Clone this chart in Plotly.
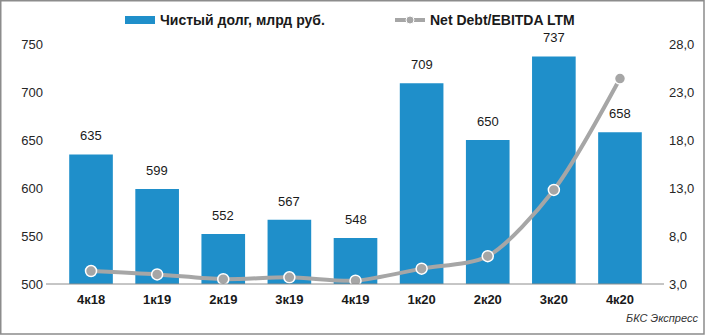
import plotly.graph_objects as go

categories = ["4к18", "1к19", "2к19", "3к19", "4к19", "1к20", "2к20", "3к20", "4к20"]
net_debt = [635, 599, 552, 567, 548, 709, 650, 737, 658]
nd_ebitda = [4.35, 4.0, 3.5, 3.7, 3.35, 4.6, 5.9, 12.8, 24.4]
left_ticks = [500, 550, 600, 650, 700, 750]
right_ticks = [3.0, 8.0, 13.0, 18.0, 23.0, 28.0]
right_labels = ["3,0", "8,0", "13,0", "18,0", "23,0", "28,0"]

BLUE = "#1F8FCA"
GRAY = "#A6A6A6"
FONT = "Arial, Liberation Sans, sans-serif"

fig = go.Figure()
fig.add_trace(go.Bar(x=categories, y=net_debt, marker=dict(color=BLUE, line=dict(width=0)),
                     name="Чистый долг, млрд руб.", showlegend=False))
fig.add_trace(go.Scatter(x=categories, y=nd_ebitda, yaxis="y2", mode="lines+markers",
                         line=dict(color=GRAY, width=4, shape="spline", smoothing=0.8),
                         marker=dict(size=11, color=GRAY, line=dict(color="white", width=1.5)),
                         name="Net Debt/EBITDA LTM", showlegend=False))

annotations = []
for c, v in zip(categories, net_debt):
    annotations.append(dict(x=c, y=v, xref="x", yref="y", text=str(v), showarrow=False,
                            yanchor="bottom", yshift=9, font=dict(size=13, color="#1a1a1a", family=FONT)))

# manual legend
annotations.append(dict(x=158, y=20, xref="paper", yref="paper", text="<b>Чистый долг, млрд руб.</b>",
                        showarrow=False, xanchor="left", yanchor="middle",
                        font=dict(size=14, color="#1a1a1a", family=FONT)))
annotations.append(dict(x=428, y=20, xref="paper", yref="paper", text="<b>Net Debt/EBITDA LTM</b>",
                        showarrow=False, xanchor="left", yanchor="middle",
                        font=dict(size=14, color="#1a1a1a", family=FONT)))
annotations.append(dict(x=700, y=318, xref="paper", yref="paper", text="<i>БКС Экспресс</i>",
                        showarrow=False, xanchor="right", yanchor="middle",
                        font=dict(size=11, color="#333333", family=FONT)))

L, R, T, B = 54, 49, 44, 52
W, H = 706, 336
PW, PH = W - L - R, H - T - B

def px(x):
    return (x - L) / PW

def py(y):
    return (H - B - y) / PH

for a in annotations:
    if a["xref"] == "paper":
        a["x"] = px(a["x"])
        a["y"] = py(a["y"])

shapes = [
    dict(type="rect", xref="paper", yref="paper", x0=px(0.75), x1=px(704), y0=py(0.75), y1=py(334),
         line=dict(color="#8c8c8c", width=1.5), fillcolor="rgba(0,0,0,0)", layer="above"),
    dict(type="line", xref="paper", yref="paper", x0=px(46), x1=px(664), y0=0, y1=0,
         line=dict(color="#8c8c8c", width=1)),
    dict(type="rect", xref="paper", yref="paper", x0=px(125), x1=px(155), y0=py(16), y1=py(24),
         line=dict(width=0), fillcolor=BLUE),
    dict(type="line", xref="paper", yref="paper", x0=px(395), x1=px(425), y0=py(20), y1=py(20),
         line=dict(color=GRAY, width=4)),
    dict(type="circle", xref="paper", yref="paper", x0=px(406), x1=px(414), y0=py(16), y1=py(24),
         line=dict(color="white", width=1), fillcolor=GRAY),
]

fig.update_layout(
    width=W, height=H,
    margin=dict(l=L, r=R, t=T, b=B, pad=0),
    paper_bgcolor="white", plot_bgcolor="white",
    bargap=0.34,
    font=dict(family=FONT, size=13, color="#1a1a1a"),
    xaxis=dict(showgrid=False, showline=False, zeroline=False, ticks="",
               tickfont=dict(size=13, family=FONT, color="#1a1a1a", weight="bold"),
               ticklabelstandoff=6, fixedrange=True),
    yaxis=dict(range=[500, 750], tickvals=left_ticks, showgrid=False, zeroline=False,
               showline=False, ticks="", ticklabelstandoff=10,
               tickfont=dict(size=13, family=FONT, color="#262626")),
    yaxis2=dict(range=[3, 28], tickvals=right_ticks, ticktext=right_labels, overlaying="y",
                side="right", showgrid=False, zeroline=False, showline=False, ticks="",
                ticklabelstandoff=11, tickfont=dict(size=13, family=FONT, color="#262626")),
    annotations=annotations,
    shapes=shapes,
    showlegend=False,
)

fig.write_html("out.html", config={"displayModeBar": False})
